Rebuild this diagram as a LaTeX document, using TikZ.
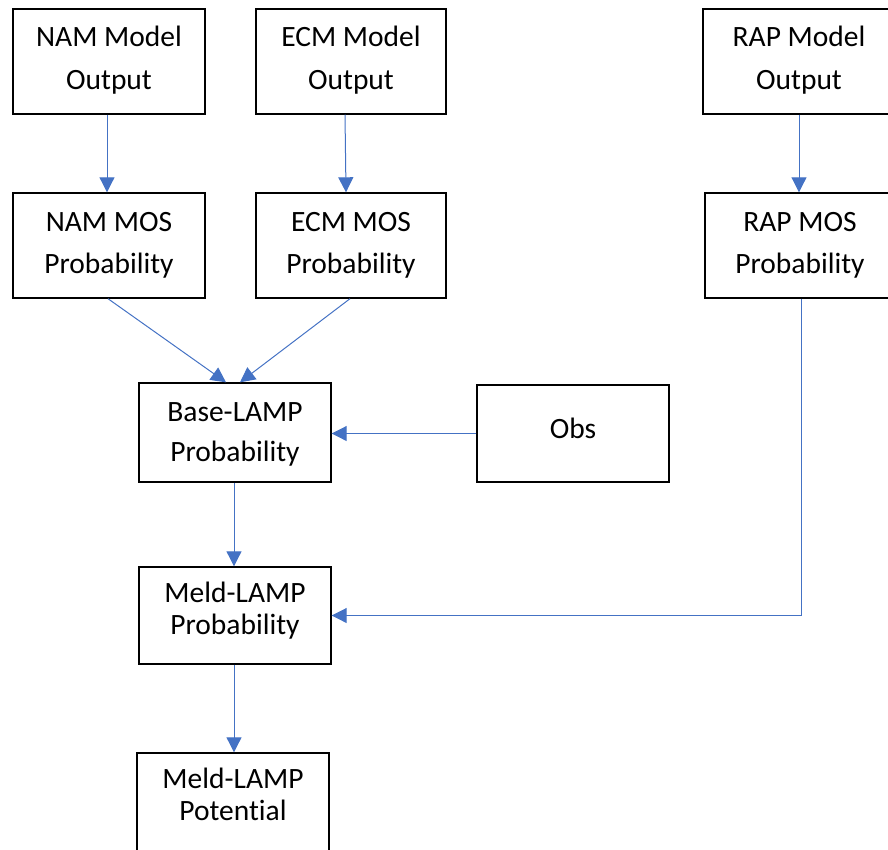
\documentclass[tikz,border=0pt]{standalone}
\usepackage{fontspec}
\setmainfont[Ligatures={NoCommon}]{Carlito}
\usetikzlibrary{arrows.meta,calc}
\definecolor{arrowblue}{HTML}{4472C4}
\begin{document}
\begin{tikzpicture}[x=1pt,y=-1pt,
  box/.style={draw=black,line width=1.4pt,rectangle,inner sep=0pt},
  txt/.style={anchor=base,inner sep=0pt,font=\fontsize{29.5}{35}\selectfont},
  conn/.style={draw=arrowblue,line width=1pt,-{Triangle[length=15pt,width=15pt]}}]
\useasboundingbox (0,0) rectangle (888,849);
\clip (0,0) rectangle (888,849);
% boxes
\node[box,minimum width=192pt,minimum height=105pt] (nam) at (109,61.5) {};
\node[box,minimum width=190pt,minimum height=105pt] (ecm) at (351,61.5) {};
\node[box,minimum width=192pt,minimum height=105pt] (rap) at (799,61.5) {};
\node[box,minimum width=192pt,minimum height=105pt] (nammos) at (109,245.5) {};
\node[box,minimum width=190pt,minimum height=105pt] (ecmmos) at (351,245.5) {};
\node[box,minimum width=190pt,minimum height=105pt] (rapmos) at (800,245.5) {};
\node[box,minimum width=192pt,minimum height=99pt] (base) at (235,432.5) {};
\node[box,minimum width=192pt,minimum height=97pt] (obs) at (573,433.5) {};
\node[box,minimum width=192pt,minimum height=97pt] (meld) at (235,615.5) {};
\node[box,minimum width=192pt,minimum height=100pt] (pot) at (233,803) {};
% texts
\node[txt] (t1a) at (109,46) {NAM Model};
\node[txt] (t1b) at (109,89) {Output};
\node[txt] (t2a) at (351,46) {ECM Model};
\node[txt] (t2b) at (351,89) {Output};
\node[txt] (t3a) at (799,46) {RAP Model};
\node[txt] (t3b) at (799,89) {Output};
\node[txt] (t4a) at (109,231) {NAM MOS};
\node[txt] (t4b) at (109,273) {Probability};
\node[txt] (t5a) at (351,231) {ECM MOS};
\node[txt] (t5b) at (351,273) {Probability};
\node[txt] (t6a) at (800,231) {RAP MOS};
\node[txt] (t6b) at (800,273) {Probability};
\node[txt] (t7a) at (235,421) {Base-LAMP};
\node[txt] (t7b) at (235,461) {Probability};
\node[txt] (t8) at (573,438) {Obs};
\node[txt] (t9a) at (235,602) {Meld-LAMP};
\node[txt] (t9b) at (235,634) {Probability};
\node[txt] (t10a) at (233,788) {Meld-LAMP};
\node[txt] (t10b) at (233,820) {Potential};
% connectors
\draw[conn] ([xshift=-2pt]nam.south) -- ([xshift=-2pt]nammos.north);
\draw[conn] ([xshift=-6pt]ecm.south) -- ([xshift=-5pt]ecmmos.north);
\draw[conn] (rap.south) -- (rapmos.north -| rap.south);
\draw[conn] ([xshift=-1pt]nammos.south) -- ([xshift=-9pt]base.north);
\draw[conn] ([xshift=-1pt]ecmmos.south) -- ([xshift=5pt]base.north);
\draw[conn] (obs.west) -- (obs.west -| base.east);
\draw[conn] ([xshift=-1pt]base.south) -- ([xshift=-1pt]meld.north);
\draw[conn] ([xshift=1pt]rapmos.south) |- (meld.east);
\draw[conn] ([xshift=-1pt]meld.south) -- ([xshift=1pt]pot.north);
\end{tikzpicture}
\end{document}
